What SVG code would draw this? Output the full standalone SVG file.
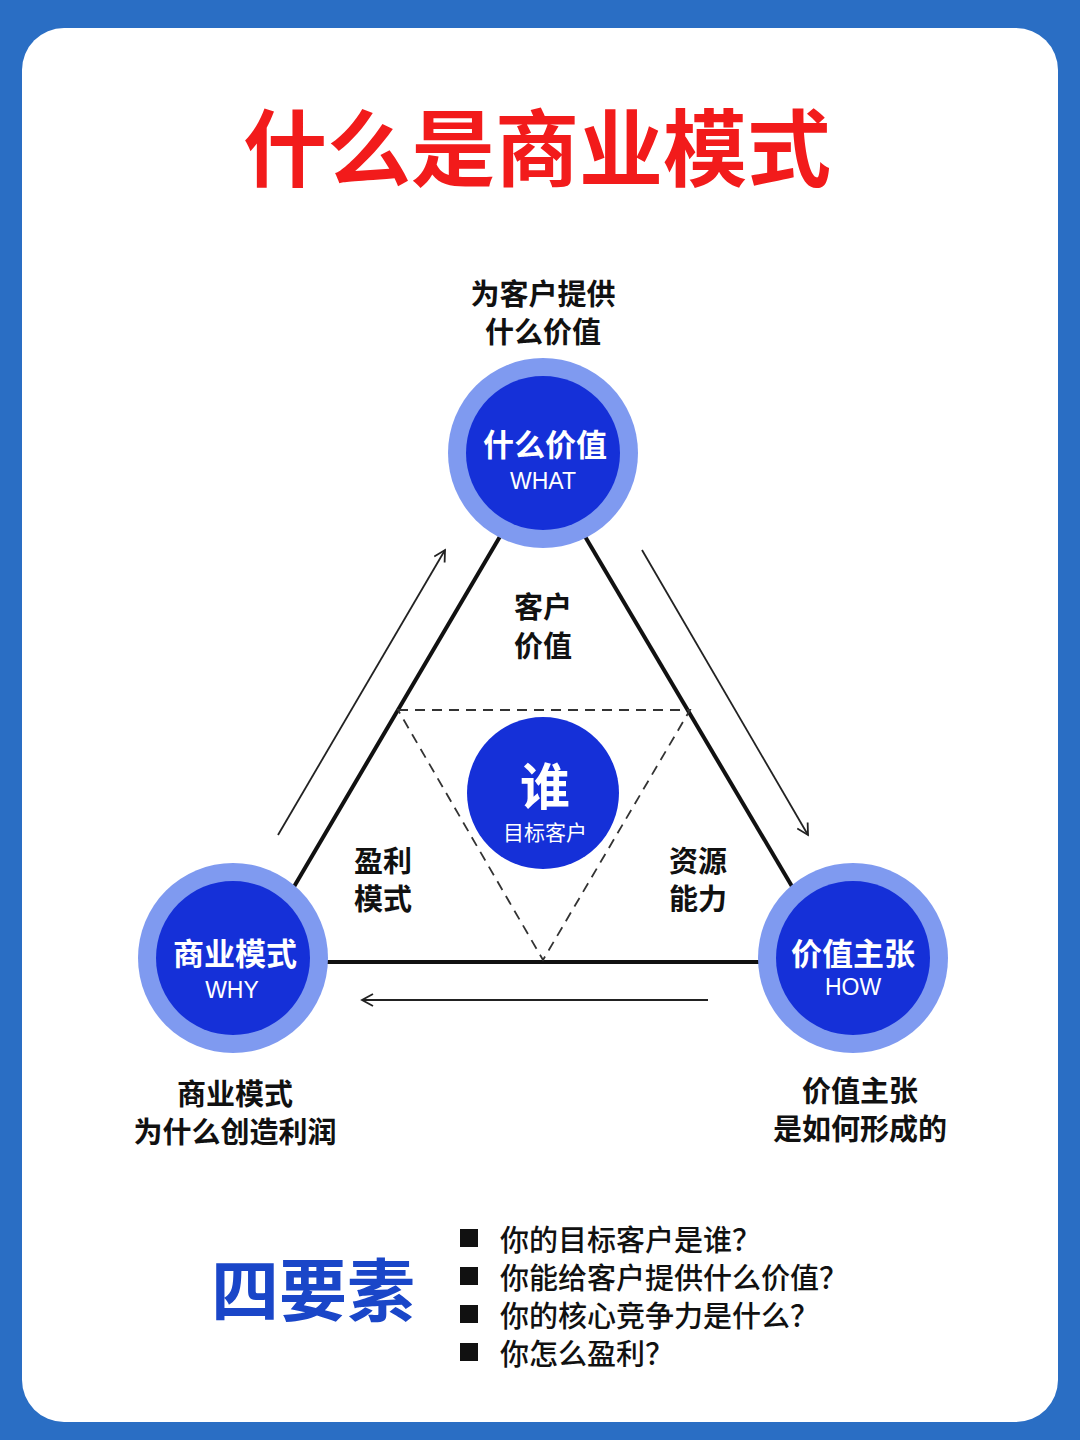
<svg xmlns="http://www.w3.org/2000/svg" width="1080" height="1440" viewBox="0 0 1080 1440">
<defs>
<style>
text{font-family:"Noto Sans CJK SC","Liberation Sans",sans-serif;font-weight:bold;text-anchor:middle}
.lbl{font-size:29px;fill:#111}
.outer{fill:#7f9af0}
.inner{fill:#1530d8}
.cn{font-size:31px;fill:#fff}
.en{font-size:23px;fill:#fff;font-weight:normal;font-family:"Liberation Sans",sans-serif}
.ln{stroke:#111;stroke-width:4;fill:none}
.ar{stroke:#222;stroke-width:1.8;fill:none;marker-end:url(#a)}
.li{font-size:29px;fill:#111;text-anchor:start;font-weight:500}
</style>
<marker id="a" markerWidth="14" markerHeight="14" refX="12" refY="7" orient="auto" markerUnits="userSpaceOnUse">
<path d="M1,1 L12,7 L1,13" fill="none" stroke="#222" stroke-width="1.8"/>
</marker>
</defs>
<rect width="1080" height="1440" fill="#2a6ec4"/>
<rect x="22" y="28" width="1036" height="1394" rx="42" fill="#fff"/>
<text x="537" y="180" style="font-size:84px;fill:#f21b1b">什么是商业模式</text>
<g id="connectors">
<line class="ln" x1="505" y1="528" x2="285" y2="902"/>
<line class="ln" x1="580" y1="528" x2="803" y2="905"/>
<line class="ln" x1="315" y1="962" x2="765" y2="962"/>
<path d="M398,710 L690,710 L543,960 Z" fill="none" stroke="#333" stroke-width="1.8" stroke-dasharray="10,7"/>
<line class="ar" x1="278" y1="835" x2="445" y2="550"/>
<line class="ar" x1="642" y1="550" x2="808" y2="835"/>
<line class="ar" x1="708" y1="1000" x2="362" y2="1000"/>
</g>
<g id="what">
<circle class="outer" cx="543" cy="453" r="95"/><circle class="inner" cx="543" cy="453" r="77"/>
<text class="cn" x="545" y="456">什么价值</text><text class="en" x="543" y="489">WHAT</text>
<text class="lbl" x="543" y="305">为客户提供</text><text class="lbl" x="543" y="343">什么价值</text>
</g>
<g id="why">
<circle class="outer" cx="233" cy="958" r="95"/><circle class="inner" cx="233" cy="958" r="77"/>
<text class="cn" x="235" y="965">商业模式</text><text class="en" x="232" y="998">WHY</text>
<text class="lbl" x="235" y="1105">商业模式</text><text class="lbl" x="235" y="1143">为什么创造利润</text>
</g>
<g id="how">
<circle class="outer" cx="853" cy="958" r="95"/><circle class="inner" cx="853" cy="958" r="77"/>
<text class="cn" x="853" y="965">价值主张</text><text class="en" x="853" y="995">HOW</text>
<text class="lbl" x="860" y="1102">价值主张</text><text class="lbl" x="860" y="1140">是如何形成的</text>
</g>
<g id="who">
<circle class="inner" cx="543" cy="793" r="76"/>
<text x="545" y="805" style="font-size:50px;fill:#fff">谁</text>
<text x="545" y="840" style="font-size:21px;fill:#fff;font-weight:normal">目标客户</text>
</g>
<g id="labels">
<text class="lbl" x="543" y="618">客户</text><text class="lbl" x="543" y="657">价值</text>
<text class="lbl" x="383" y="872">盈利</text><text class="lbl" x="383" y="910">模式</text>
<text class="lbl" x="698" y="872">资源</text><text class="lbl" x="698" y="910">能力</text>
</g>
<g id="four">
<text x="313" y="1316" style="font-size:68px;fill:#1a46c8">四要素</text>
<rect x="460" y="1229" width="18" height="18" fill="#111"/>
<rect x="460" y="1267" width="18" height="18" fill="#111"/>
<rect x="460" y="1305" width="18" height="18" fill="#111"/>
<rect x="460" y="1343" width="18" height="18" fill="#111"/>
<text class="li" x="500" y="1251">你的目标客户是谁？</text>
<text class="li" x="500" y="1289">你能给客户提供什么价值？</text>
<text class="li" x="500" y="1327">你的核心竞争力是什么？</text>
<text class="li" x="500" y="1365">你怎么盈利？</text>
</g>
</svg>
